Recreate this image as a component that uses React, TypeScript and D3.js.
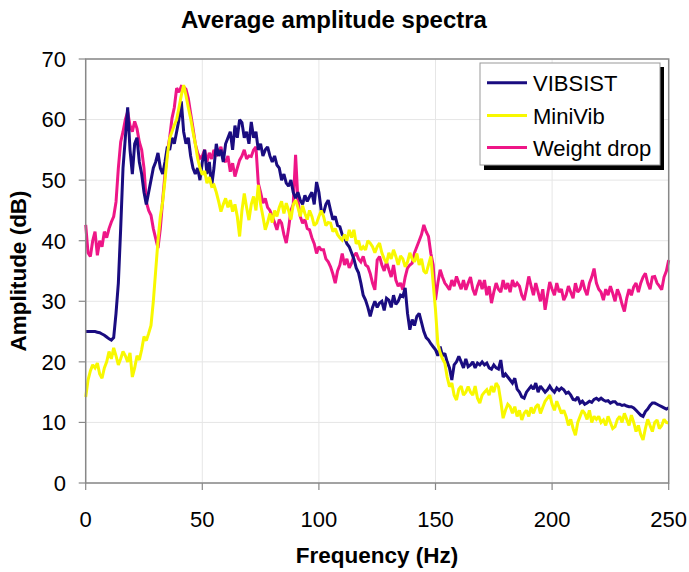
import React from "react";
import * as d3 from "d3";

const TITLE = "Average amplitude spectra";
const X_LABEL = "Frequency (Hz)";
const Y_LABEL = "Amplitude (dB)";
const X_TICKS = [0, 50, 100, 150, 200, 250];
const Y_TICKS = [0, 10, 20, 30, 40, 50, 60, 70];
const SERIES_NAMES = ["VIBSIST", "MiniVib", "Weight drop"];
const SERIES_COLORS = ["#1a0c80", "#f8f800", "#ee1687"];

// 1 Hz spacing, 0..250 Hz
const VIBSIST = [
  25, 25, 25, 25, 25, 24.9, 24.8, 24.6, 24.4, 24.1,
  23.8, 23.6, 24, 28, 33, 42, 52, 57, 62, 55,
  51, 56, 57, 53, 51, 48, 46, 48, 50, 52,
  53, 54.5, 52, 51, 53, 55.5, 55, 57, 56, 58,
  60, 63, 58, 56, 57, 54, 52, 51, 52, 50,
  53, 55, 51, 53, 49, 52, 56, 54, 55, 53,
  56, 57, 58, 55, 59, 57, 60, 59.5, 57, 58,
  56, 59.6, 57, 58, 55, 56, 54, 55, 55.5, 54,
  53, 54, 52.5, 52, 50, 51, 49.5, 49, 50, 48,
  47, 48, 46.7, 46, 47.5, 46.5, 47.3, 48, 46, 49.7,
  48, 45, 44.6, 46, 46.7, 45, 43.5, 44, 42.5, 42.3,
  41, 40.5, 39.5, 39, 38, 37, 35.5, 34.7, 33, 31,
  30.2, 29, 27.5, 29, 30, 29, 29.7, 30, 28.5, 30.5,
  30.2, 29, 31, 29.5, 30, 31, 30.8, 32.2, 28, 25.3,
  27, 26, 27.5, 28, 26.5, 25, 24, 23.6, 23, 22.5,
  22, 21, 22.5, 21, 21.4, 20, 19, 17, 19.5, 20,
  20.9, 20, 19, 20.5, 19.2, 19.5, 20, 19, 19.8, 19.5,
  20, 19.5, 19.8, 19, 18.8, 19.5, 19, 18.8, 20.3, 17.5,
  18, 17.5, 17, 16.5, 17.3, 15.5, 15, 14.2, 14, 15,
  15.5, 16, 15.5, 16.5, 15, 16, 15.5, 15, 15.4, 16,
  15.4, 15, 15.7, 15.3, 15.7, 15.4, 14.8, 15, 14.5, 13.8,
  13.7, 14.2, 13.2, 13.5, 13, 13.2, 13.5, 13.3, 13.8, 14,
  13.7, 14, 13.7, 13.5, 13.6, 13.2, 13.4, 13.4, 13, 13,
  12.8, 12.9, 12.7, 12.6, 12.6, 12.4, 12, 11.6, 11.2, 11,
  11.8, 12.2, 12.8, 13.2, 13.2, 13, 12.8, 12.6, 12.4, 12.2,
  12.4,
];

const MINIVIB = [
  14.2, 17, 18.5, 19.5, 19, 19.8, 18, 17.3, 19, 20,
  21.7, 20.5, 22.3, 21, 19.5, 20.5, 21.7, 21, 20, 21.5,
  17.5, 19, 21, 20.3, 22, 24.2, 23.5, 24.7, 26, 30,
  35, 40, 44, 46.4, 50, 54, 56.9, 58, 59.1, 60,
  62, 64, 65.7, 64, 62, 60.2, 58, 56, 53.6, 52,
  50.9, 51.5, 49.5, 50.5, 49, 49.2, 48, 46.5, 44.8, 46,
  47, 45.5, 46.7, 44.8, 46, 44, 40.7, 45, 47.8, 45.5,
  43.4, 46, 47.3, 45, 49.2, 46, 44, 41.8, 43, 44.5,
  43, 45, 44, 45.5, 46.5, 44.5, 46.2, 45, 43.5, 46,
  46.7, 45.5, 44, 45.8, 44.5, 43.5, 45, 44, 42.5, 42.9,
  44, 45, 44, 42.5, 43, 42.9, 41.5, 42, 41, 40.5,
  40.1, 41, 40, 41.8, 40.5, 41.8, 39.5, 40, 38.5, 39,
  38.5, 40, 39.6, 39, 38, 39, 39.6, 38, 37, 36.3,
  38, 37, 38.5, 37.4, 36, 37.5, 37, 35.7, 36.5, 38,
  37, 36.5, 37.9, 36, 37, 35, 34.6, 36, 37.4, 33,
  28.6, 23, 21.5, 20.5, 19.8, 17.5, 15.9, 16.5, 14.5, 13.7,
  15.5, 16, 14.5, 15, 15.9, 15, 14.5, 16, 14, 13.2,
  14.5, 15, 15.4, 14.5, 16, 15, 16.5, 15.9, 13.5, 10.7,
  12, 13, 12.6, 11.5, 12.6, 11, 12, 10.4, 11.5, 12,
  11, 12.5, 11.5, 12.6, 13, 11.5, 12.5, 13.5, 14, 14.5,
  13, 12, 13.5, 12.5, 11.5, 12, 11, 9.5, 10.5, 9,
  7.9, 10, 11, 12, 11.5, 10.5, 12, 10, 11, 10.5,
  11, 10, 10.4, 9.5, 11, 10, 9, 9.3, 10.5, 11,
  10, 11.5, 10.5, 9.5, 11.2, 10, 8.5, 9.5, 8, 7.1,
  9, 10.5, 9.5, 8.5, 10, 10.4, 9, 9.5, 10.5, 10,
  9.9,
];

const WEIGHT_DROP = [
  42.6, 38, 37.4, 40, 41.5, 37.6, 40, 39, 41.5, 40.5,
  42, 43.1, 44, 46.4, 52, 56.3, 58, 60, 61.3, 59,
  58, 59.7, 58.5, 56.3, 55, 52, 46.4, 45, 44.2, 42,
  40.4, 38.8, 42, 46.7, 51, 54.7, 57, 60.2, 62, 65.2,
  64.5, 65.5, 65.4, 65, 63.5, 61, 58.6, 56, 54.5, 53.6,
  54, 55, 53, 54.5, 53.5, 55, 54, 54.7, 55.5, 53.5,
  53, 54, 51.4, 52.8, 50.6, 52, 53.3, 54, 55, 53.5,
  54, 53.9, 55, 55.5, 49.5, 48, 46.2, 47, 45.5, 45,
  44, 43, 41.8, 43.5, 42.9, 41, 39.6, 42, 45, 46,
  54.2, 46.7, 44, 42.9, 43.5, 42, 41.8, 40.5, 39.5, 37.9,
  39, 38.5, 38.5, 37, 36.5, 35.7, 34.5, 33, 35, 36,
  37.9, 36, 37, 35.5, 36.3, 37.5, 38, 37, 36.5, 37.4,
  36, 35.7, 34.6, 33, 31.9, 36.8, 37.4, 36, 35, 36.5,
  35.2, 34, 36, 33.5, 32.5, 33, 31.9, 34, 35.5, 36,
  36.3, 38, 39, 40, 41, 42.6, 41.5, 40.7, 37.9, 36,
  30.2, 33, 35.2, 34, 33, 32.5, 31.9, 33.5, 32.5, 34.1,
  33, 32, 33.5, 31.9, 33, 34, 32, 31, 32.5, 33.5,
  32, 33.5, 31, 32.5, 29.7, 31.5, 33, 32, 31.5, 33.5,
  32, 33, 31.5, 33.5, 32.4, 33, 32.5, 31, 30.2, 32,
  34.1, 32.5, 31, 33, 31.5, 30, 32, 28.6, 31, 33.2,
  32, 31, 33, 31.5, 32, 30.2, 31, 32.5, 31.5, 30.5,
  33, 31.5, 32, 33.5, 32, 31, 33, 34, 35.4, 33,
  32, 31.5, 30.2, 32, 31, 32.5, 31.3, 30, 32, 31,
  29.5, 28.3, 30.5, 32, 31, 32.4, 33, 31.5, 33, 34,
  34.6, 33, 32, 34, 34.1, 33, 32.5, 31.9, 34, 35,
  36.8,
];

const W = 689;
const H = 572;
const M = { left: 85.7, right: 668.7, top: 59, bottom: 483 };
const FONT = "'Liberation Sans', Arial, sans-serif";

export default function App() {
  const x = d3.scaleLinear().domain([0, 250]).range([M.left, M.right]);
  const y = d3.scaleLinear().domain([0, 70]).range([M.bottom, M.top]);
  const line = d3
    .line<number>()
    .x((_, i) => x(i))
    .y((v) => y(v));

  const data = [VIBSIST, MINIVIB, WEIGHT_DROP];
  const drawOrder = [2, 0, 1];

  const legendRows = [82.7, 115.5, 147.5];

  return (
    <svg
      width={W}
      height={H}
      style={{ position: "absolute", left: 0, top: 0, background: "#fff" }}
      fontFamily={FONT}
    >
      <rect x={0} y={0} width={W} height={H} fill="#fff" />
      <text x={334} y={28} textAnchor="middle" fontSize={24} fontWeight="bold">
        {TITLE}
      </text>

      {/* gridlines */}
      {Y_TICKS.map((t) => (
        <line key={"gy" + t} x1={M.left} x2={M.right} y1={y(t)} y2={y(t)} stroke="#e6e6e6" strokeWidth={1} />
      ))}
      {X_TICKS.map((t) => (
        <line key={"gx" + t} x1={x(t)} x2={x(t)} y1={M.top} y2={M.bottom} stroke="#e6e6e6" strokeWidth={1} />
      ))}

      {/* series */}
      {drawOrder.map((si) => (
        <path
          key={SERIES_NAMES[si]}
          d={line(data[si]) || ""}
          fill="none"
          stroke={SERIES_COLORS[si]}
          strokeWidth={3}
          strokeLinejoin="miter"
          strokeMiterlimit={2}
        />
      ))}

      {/* plot border */}
      <rect
        x={M.left}
        y={M.top}
        width={M.right - M.left}
        height={M.bottom - M.top}
        fill="none"
        stroke="#888"
        strokeWidth={1.5}
      />

      {/* y axis ticks */}
      {Y_TICKS.map((t) => (
        <g key={"ty" + t}>
          <line x1={M.left - 7} x2={M.left} y1={y(t)} y2={y(t)} stroke="#888" strokeWidth={1.2} />
          <text x={66} y={y(t) + 7.8} textAnchor="end" fontSize={22}>
            {t}
          </text>
        </g>
      ))}
      {/* x axis ticks */}
      {X_TICKS.map((t) => (
        <g key={"tx" + t}>
          <line x1={x(t)} x2={x(t)} y1={M.bottom} y2={M.bottom + 7} stroke="#888" strokeWidth={1.2} />
          <text x={x(t)} y={527} textAnchor="middle" fontSize={22}>
            {t}
          </text>
        </g>
      ))}

      <text x={377} y={563} textAnchor="middle" fontSize={22.5} fontWeight="bold">
        {X_LABEL}
      </text>
      <text
        transform={`translate(26, ${(M.top + M.bottom) / 2}) rotate(-90)`}
        textAnchor="middle"
        fontSize={22.5}
        fontWeight="bold"
      >
        {Y_LABEL}
      </text>

      {/* legend */}
      <rect x={484} y={67} width={180} height={103} fill="#000" />
      <rect x={480} y={63} width={180} height={102} fill="#fff" stroke="#999" strokeWidth={1} />
      {SERIES_NAMES.map((name, i) => (
        <g key={"lg" + name}>
          <line
            x1={487}
            x2={527}
            y1={legendRows[i]}
            y2={legendRows[i]}
            stroke={SERIES_COLORS[i]}
            strokeWidth={3}
          />
          <text x={533} y={legendRows[i] + 8} fontSize={22}>
            {name}
          </text>
        </g>
      ))}
    </svg>
  );
}
